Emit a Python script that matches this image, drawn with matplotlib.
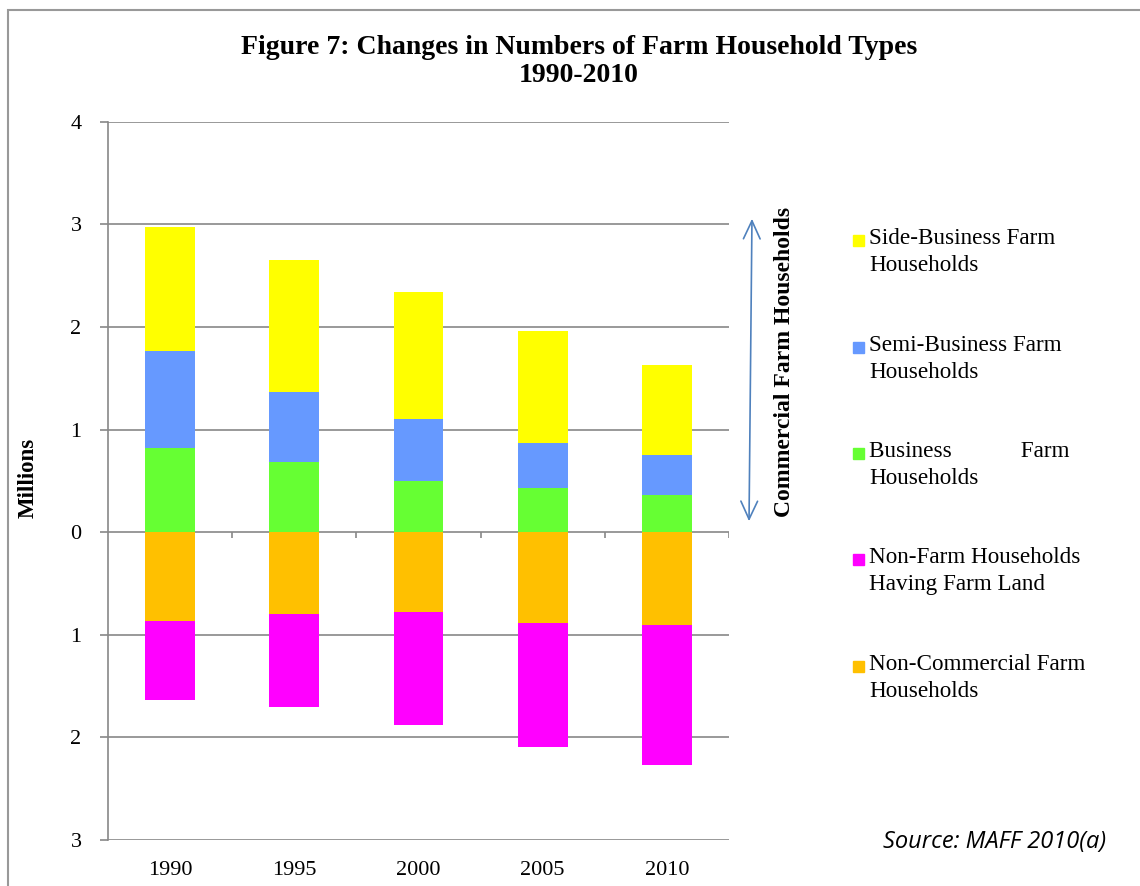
import matplotlib
matplotlib.use("Agg")
import matplotlib.pyplot as plt
from matplotlib.patches import Rectangle, FancyArrowPatch
import numpy as np

years = ["1990", "1995", "2000", "2005", "2010"]
business = [0.82, 0.68, 0.50, 0.43, 0.36]
semi_business = [0.95, 0.69, 0.60, 0.44, 0.39]
side_business = [1.20, 1.28, 1.24, 1.09, 0.88]
non_commercial = [0.87, 0.80, 0.78, 0.89, 0.90]
non_farm = [0.77, 0.90, 1.10, 1.20, 1.37]
ytick_values = [4, 3, 2, 1, 0, -1, -2, -3]
ytick_labels = ["4", "3", "2", "1", "0", "1", "2", "3"]

c_side = "#FFFF00"
c_semi = "#6699FF"
c_bus = "#66FF33"
c_nf = "#FF00FF"
c_nc = "#FFC000"

plt.rcParams['font.family'] = ['Liberation Serif', 'DejaVu Serif']

fig = plt.figure(figsize=(11.4, 8.86), dpi=100)
ax = fig.add_axes([108/1140, 1-840/886, (729-108)/1140, (840-121.7)/886])

x = np.arange(len(years))
b = np.array(business)
s = np.array(semi_business)
sb = np.array(side_business)
nc = -np.array(non_commercial)
nf = -np.array(non_farm)
w = 0.40
ax.bar(x, b, w, color=c_bus, zorder=3)
ax.bar(x, s, w, bottom=b, color=c_semi, zorder=3)
ax.bar(x, sb, w, bottom=b + s, color=c_side, zorder=3)
ax.bar(x, nc, w, color=c_nc, zorder=3)
ax.bar(x, nf, w, bottom=nc, color=c_nf, zorder=3)

ax.set_xlim(-0.5, len(years) - 0.5)
ax.set_ylim(-3, 4)
ax.set_yticks(ytick_values)
ax.set_yticklabels(ytick_labels, fontsize=16)
ax.set_xticks(x)
ax.set_xticklabels(years, fontsize=16)
ax.tick_params(axis='x', length=0, pad=15)
ax.tick_params(axis='y', length=6, color='#888888', pad=13, width=1.2)
ax.yaxis.grid(True, color='#888888', linewidth=1.2, zorder=1)
for sp in ['top', 'right', 'bottom']:
    ax.spines[sp].set_visible(False)
ax.spines['left'].set_color('#888888')
ax.spines['left'].set_linewidth(1.2)
# zero-line category tick marks
ax.vlines(np.arange(len(years)) + 0.5, -0.06, 0, color='#888888', linewidth=1.2, zorder=2)

ax.set_ylabel("Millions", fontsize=16.5, fontweight='bold')
ax.yaxis.set_label_coords((39 - 108) / 621, (840 - 478) / 718)

fig.text(0.508, 1-48/886, "Figure 7: Changes in Numbers of Farm Household Types",
         ha='center', va='center', fontsize=20, fontweight='bold')
fig.text(0.508, 1-76/886, "1990-2010", ha='center', va='center', fontsize=20, fontweight='bold')

# double-headed arrow
arr = FancyArrowPatch((752/1140, 1-216/886), (749/1140, 1-524/886), transform=fig.transFigure,
                      arrowstyle='<->,head_length=13,head_width=6', color='#4F81BD',
                      linewidth=1.2, mutation_scale=1)
fig.patches.append(arr)
fig.text(784/1140, 1-362/886, "Commercial Farm Households", rotation=90, ha='center', va='center',
         fontsize=17, fontweight='bold')

# legend
entries = [
    (c_side, "Side-Business Farm\nHouseholds", 240),
    (c_semi, "Semi-Business Farm\nHouseholds", 347),
    (c_bus, "Business            Farm\nHouseholds", 453),
    (c_nf, "Non-Farm Households\nHaving Farm Land", 559),
    (c_nc, "Non-Commercial Farm\nHouseholds", 666),
]
for col, lab, ytop in entries:
    fig.patches.append(Rectangle((853/1140, 1-(ytop+6)/886), 11/1140, 11/886,
                                 transform=fig.transFigure, color=col))
    fig.text(869/1140, 1-(ytop-12)/886, lab, ha='left', va='top', fontsize=16.7, linespacing=1.35)

fig.text(995/1140, 1-842/886, "Source: MAFF 2010(a)", ha='center', va='center',
         fontsize=17, style='italic', family=['Open Sans', 'DejaVu Sans'])

# outer frame
fig.patches.append(Rectangle((8/1140, -0.1), 1.2, 1.1 - 10/886, transform=fig.transFigure,
                             fill=False, edgecolor='#999999', linewidth=1.5))

fig.savefig("out.png", dpi=100)
